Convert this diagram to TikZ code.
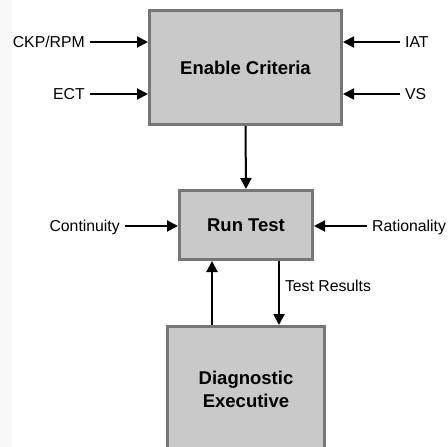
\documentclass[tikz,border=0pt]{standalone}
\usepackage{fontspec}
\setmainfont{Liberation Sans}
\usepackage{tikz}
\usetikzlibrary{arrows.meta}

\definecolor{boxFill}{RGB}{201,201,201}
\definecolor{boxLine}{RGB}{118,118,118}
\definecolor{stripGray}{RGB}{247,248,250}

\begin{document}
\begin{tikzpicture}[
    x=1pt, y=1pt,
    font=\fontsize{15.8}{18}\selectfont,
    arr/.style={line width=2pt, -{Triangle[length=11pt, width=11pt]}},
    box/.style={fill=boxFill, draw=boxLine, line width=3pt, align=center,
        font=\fontsize{18.5}{23}\selectfont\bfseries},
    inLabel/.style={inner xsep=5pt, inner ysep=0pt, text height=11.3pt, text depth=0pt}
]
    % Frame
    \useasboundingbox (0,0) rectangle (448,-447);
    \clip (0,0) rectangle (448,-447);
    \fill [stripGray] (0,0) rectangle (12,-447);

    % Boxes
    \node [box, minimum width=192pt, minimum height=114pt] (enable) at (245.5,-67.5) {Enable Criteria};
    \node [box, minimum width=133pt, minimum height=69pt] (run) at (246,-225) {Run Test};
    \node [box, minimum width=157pt, minimum height=126pt] (diag) at (246,-389.5) {Diagnostic\\Executive};

    % Inputs to Enable Criteria
    \node [inLabel, anchor=east] (ckp) at (90,-42) {CKP/RPM};
    \node [inLabel, anchor=east] (ect) at (90,-94) {ECT};
    \node [inLabel, anchor=west] (iat) at (400,-42) {IAT};
    \node [inLabel, anchor=west] (vs) at (400,-94) {VS};
    \draw [arr] (ckp.east) -- (ckp.east -| enable.west);
    \draw [arr] (ect.east) -- (ect.east -| enable.west);
    \draw [arr] (iat.west) -- (iat.west -| enable.east);
    \draw [arr] (vs.west) -- (vs.west -| enable.east);

    % Inputs to Run Test
    \node [inLabel, anchor=east] (cont) at (125,-226) {Continuity};
    \node [inLabel, anchor=west] (rat) at (367,-226) {Rationality};
    \draw [arr] (cont.east) -- (cont.east -| run.west);
    \draw [arr] (rat.west) -- (rat.west -| run.east);

    % Flow between boxes
    \draw [arr] (enable.south) -- (run.north);
    \draw [arr] ([xshift=-34pt]diag.north) -- ([xshift=-34pt]run.south);
    \draw [arr] ([xshift=33pt]run.south) -- node [inLabel, anchor=west, pos=0.39] (results) {Test Results} ([xshift=33pt]diag.north);
\end{tikzpicture}
\end{document}
